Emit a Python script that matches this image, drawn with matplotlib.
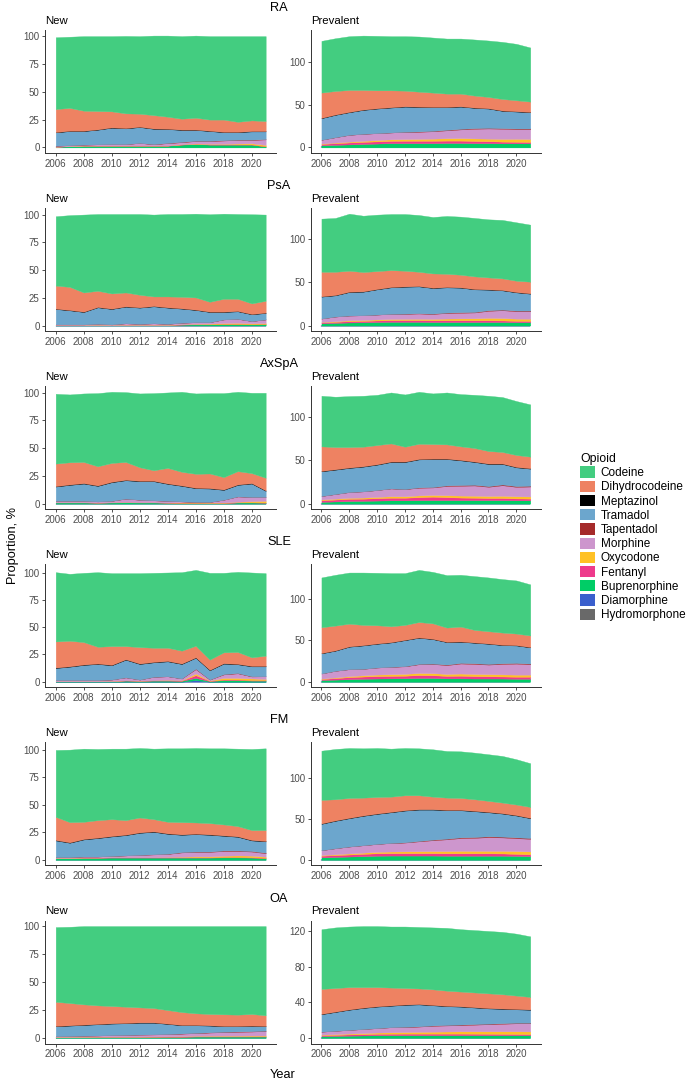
import numpy as np
import matplotlib.pyplot as plt
from matplotlib.patches import Patch

plt.rcParams['font.family'] = ['Liberation Sans', 'DejaVu Sans']

#%% data
years = np.arange(2006, 2022)
drugs = ['Codeine', 'Dihydrocodeine', 'Meptazinol', 'Tramadol', 'Tapentadol', 'Morphine',
         'Oxycodone', 'Fentanyl', 'Buprenorphine', 'Diamorphine', 'Hydromorphone']
colours = ['#43CD80', '#EE8262', '#000000', '#6CA6CD', '#A52A2A', '#CD96CD',
           '#FFC125', '#EE3A8C', '#00CD66', '#3A5FCD', '#696969']
conditions = ['RA', 'PsA', 'AxSpA', 'SLE', 'FM', 'OA']
x_ticks = [2006, 2008, 2010, 2012, 2014, 2016, 2018, 2020]
new_ticks = [0, 25, 50, 75, 100]
prev_ticks = [0, 50, 100]
oa_prev_ticks = [0, 40, 80, 120]

ra_new = {
    'Codeine': [64.5, 64, 67, 67.3, 67.6, 69.6, 69.7, 71.5, 72.9, 74.2, 73.8, 75, 75, 77, 75.7, 76.3],
    'Dihydrocodeine': [20.7, 20.5, 18, 16.5, 14.4, 13.2, 11.7, 12, 10.8, 9.8, 10.7, 10, 11, 9, 9.6, 9],
    'Meptazinol': [0.3, 0.3, 0.3, 0.3, 0.3, 0.3, 0.3, 0.3, 0.3, 0.3, 0.3, 0.3, 0.3, 0.3, 0.3, 0.3],
    'Tramadol': [12.0, 12.7, 12.2, 13.1, 14.7, 14.1, 14.3, 13.7, 12.5, 10.7, 9.7, 8.7, 7.2, 6.7, 7.4, 6.9],
    'Tapentadol': [0, 0, 0, 0, 0, 0, 0, 0.1, 0.2, 0.3, 0.3, 0.3, 0.3, 0.3, 0.3, 0.3],
    'Morphine': [0.8, 0.8, 0.8, 1.1, 1.3, 1.3, 2.3, 1.2, 2.1, 1.8, 2.2, 2.5, 3, 3.2, 3, 5],
    'Oxycodone': [0, 0, 0, 0, 0, 0, 0, 0, 0, 0.2, 0.3, 0.5, 0.5, 0.8, 1, 1.2],
    'Fentanyl': [0.2, 0.2, 0.2, 0.2, 0.2, 0.2, 0.2, 0.2, 0.2, 0.2, 0.2, 0.2, 0.2, 0.2, 0.2, 0.2],
    'Buprenorphine': [0.5, 1, 1.5, 1.5, 1.5, 1.5, 1.5, 1.5, 1.5, 2.5, 3, 2.5, 2.5, 2.5, 2.5, 0.8],
}
ra_prev = {
    'Codeine': [60.9, 62.1, 63.3, 64, 64.1, 63.7, 64.1, 64.9, 64.8, 64.8, 64.8, 66, 66.4, 67.2, 66.4, 63.7],
    'Dihydrocodeine': [29.7, 27.7, 25.8, 23.1, 21.1, 19.9, 18.4, 17.6, 16.8, 15.6, 14.9, 14.1, 13.3, 13.6, 12.9, 12.1],
    'Meptazinol': [0.4, 0.4, 0.4, 0.4, 0.4, 0.4, 0.4, 0.4, 0.4, 0.4, 0.4, 0.4, 0.4, 0.4, 0.4, 0.4],
    'Tramadol': [25.4, 26.3, 26.6, 28.1, 28.9, 29.3, 29.6, 28.8, 27.8, 26.6, 26.1, 23.8, 22.7, 20.3, 19.9, 19.1],
    'Tapentadol': [0, 0, 0, 0, 0, 0, 0.2, 0.4, 0.5, 0.6, 0.7, 0.7, 0.7, 0.7, 0.7, 0.7],
    'Morphine': [4.5, 6.3, 8.0, 8.3, 8.2, 8.1, 8.4, 8.4, 8.7, 9.3, 10.2, 11.4, 12.0, 12.0, 11.5, 11.7],
    'Oxycodone': [0.5, 0.7, 1, 1.2, 1.5, 1.8, 2, 2.2, 2.5, 2.8, 3, 3, 3, 3.2, 3.5, 3.5],
    'Fentanyl': [1.5, 2, 2.3, 2.5, 2.6, 2.7, 2.8, 2.8, 2.8, 2.8, 2.8, 2.6, 2.3, 2, 1.8, 1.6],
    'Buprenorphine': [2.5, 3, 3.5, 4, 4.5, 5, 5, 5, 5, 5.2, 5.2, 5, 5, 4.8, 4.8, 4.8],
}
psa_new = {
    'Codeine': [62.5, 64.7, 70.2, 69.2, 71.6, 70.7, 72.8, 73.8, 74.3, 74.6, 75.5, 78.9, 76.7, 76.4, 80.4, 77.7],
    'Dihydrocodeine': [20.8, 20.8, 17.3, 14.6, 13.7, 12.5, 11.3, 8.6, 9.8, 10.4, 11, 8.9, 11.6, 11, 9.5, 10.7],
    'Meptazinol': [0.3, 0.3, 0.3, 0.3, 0.3, 0.3, 0.3, 0.3, 0.3, 0.3, 0.3, 0.3, 0.3, 0.3, 0.3, 0.3],
    'Tramadol': [13.9, 12.7, 11.2, 14.9, 13.9, 15.0, 14.6, 15.3, 14.6, 12.7, 11.0, 9.2, 6.7, 6.8, 6.1, 5.8],
    'Morphine': [0.5, 0.5, 0.5, 0.8, 0.5, 1.3, 0.8, 1.3, 0.8, 1.3, 1.5, 1.3, 3.3, 3.6, 2.0, 3.3],
    'Oxycodone': [0, 0, 0, 0, 0, 0, 0, 0, 0, 0.2, 0.3, 0.5, 0.8, 1, 0.8, 0.8],
    'Fentanyl': [0.2, 0.2, 0.2, 0.2, 0.2, 0.2, 0.2, 0.2, 0.2, 0.2, 0.2, 0.2, 0.2, 0.2, 0.2, 0.2],
    'Buprenorphine': [0.3, 0.3, 0.3, 0.5, 0.3, 0.5, 0.5, 0.5, 0.5, 0.8, 1, 1, 1.2, 1.2, 1, 1.2],
}
psa_prev = {
    'Codeine': [61.1, 61.9, 65.6, 64.8, 64.9, 64.5, 65.2, 65.3, 64.9, 66.5, 66.8, 67.2, 66.8, 67.2, 67.2, 65.6],
    'Dihydrocodeine': [28.2, 26.7, 24.1, 22.2, 20.6, 19.4, 18, 16.4, 16.4, 15.2, 14.5, 14.5, 13.7, 13.4, 13, 13.4],
    'Meptazinol': [0.4, 0.4, 0.4, 0.4, 0.4, 0.4, 0.4, 0.4, 0.4, 0.4, 0.4, 0.4, 0.4, 0.4, 0.4, 0.4],
    'Tramadol': [25.2, 24.4, 27.0, 27.1, 29.0, 30.5, 30.9, 30.9, 29.4, 29.0, 28.2, 26.0, 23.6, 22.1, 20.9, 19.4],
    'Tapentadol': [0, 0, 0, 0, 0, 0, 0.2, 0.3, 0.4, 0.5, 0.6, 0.6, 0.7, 0.7, 0.7, 0.7],
    'Morphine': [4.0, 5.4, 5.5, 5.5, 5.6, 5.9, 5.9, 6.1, 5.7, 6.4, 6.5, 6.7, 8.1, 9.0, 8.6, 8.7],
    'Oxycodone': [0.5, 0.7, 1, 1, 1.2, 1.3, 1.4, 1.5, 1.6, 2, 2.2, 2.3, 2.8, 2.8, 2.5, 2.5],
    'Fentanyl': [1, 1.2, 1.5, 1.6, 1.8, 2, 2, 2, 2, 2, 2, 2, 2, 1.8, 1.6, 1.5],
    'Buprenorphine': [2.5, 3, 3.5, 3.7, 4, 4.2, 4.2, 4.2, 4, 4, 4, 4, 4, 4, 3.8, 3.8],
}
axspa_new = {
    'Codeine': [63, 61.2, 61.8, 66, 64.2, 63, 66.6, 69.6, 68.1, 72.2, 72.5, 72.5, 75.8, 71.6, 72.5, 76.7],
    'Dihydrocodeine': [20.3, 20, 19.1, 17.3, 17, 16.1, 12.2, 9.5, 14, 12.3, 12.6, 13.2, 11.1, 12, 9, 11.4],
    'Meptazinol': [0.4, 0.4, 0.4, 0.4, 0.4, 0.4, 0.4, 0.4, 0.4, 0.4, 0.4, 0.4, 0.4, 0.4, 0.4, 0.4],
    'Tramadol': [12.9, 14.4, 15.6, 14.0, 16.8, 16.6, 16.7, 17.2, 15.3, 14.0, 12.4, 12.1, 8.9, 10.4, 12.1, 5.5],
    'Morphine': [1.3, 1.3, 1.3, 1.0, 1.3, 3.1, 2.3, 1.8, 1.5, 0.8, 0.3, 0.5, 2.5, 4.8, 3.8, 3.5],
    'Oxycodone': [0, 0, 0, 0, 0, 0, 0, 0, 0, 0.5, 0.5, 0.3, 0.3, 0.5, 1, 1.5],
    'Fentanyl': [0.2, 0.2, 0.2, 0.2, 0.2, 0.2, 0.2, 0.2, 0.2, 0.2, 0.2, 0.2, 0.2, 0.2, 0.2, 0.2],
    'Buprenorphine': [1, 1, 1, 0.8, 1, 1.2, 1, 1, 0.8, 0.5, 0.5, 0.5, 0.5, 1, 1, 0.8],
}
axspa_prev = {
    'Codeine': [58.6, 58.3, 59, 59, 58.2, 59, 60.5, 60.2, 58.6, 60.1, 60.5, 61.6, 64, 63.6, 62.5, 60.5],
    'Dihydrocodeine': [28.4, 25.7, 23.7, 22.6, 22.2, 21, 17.2, 17.6, 16.9, 16.5, 15.7, 15.7, 14.5, 13.4, 13.8, 13.4],
    'Meptazinol': [0.5, 0.5, 0.5, 0.5, 0.5, 0.5, 0.5, 0.5, 0.5, 0.5, 0.5, 0.5, 0.5, 0.5, 0.5, 0.5],
    'Tramadol': [28.6, 28.2, 27.9, 28.6, 29.4, 30.6, 31.3, 32.4, 32.4, 30.5, 28.6, 26.4, 25.6, 23.7, 21.7, 19.8],
    'Tapentadol': [0, 0, 0, 0, 0, 0, 0.2, 0.4, 0.5, 0.7, 0.8, 0.8, 0.8, 0.9, 0.9, 0.9],
    'Morphine': [4.0, 5.4, 6.7, 7.2, 7.9, 9.1, 8.2, 8.9, 8.7, 10.7, 11.4, 11.9, 10.7, 12.3, 10.9, 11.5],
    'Oxycodone': [0.8, 1, 1.2, 1.3, 1.5, 1.7, 1.7, 2, 2, 2.2, 2.3, 2.3, 2.3, 2.5, 2.5, 2.5],
    'Fentanyl': [2, 2.2, 2.5, 2.5, 2.8, 3, 3, 3.5, 4, 3.5, 3, 2.8, 2.5, 2.5, 2.2, 2],
    'Buprenorphine': [2, 2.5, 3, 3.2, 3.5, 3.8, 3.8, 4, 4, 4, 4, 4, 4, 4, 3.8, 3.8],
}
sle_new = {
    'Codeine': [63.6, 61.5, 63.6, 68.5, 67, 67, 67.9, 68.8, 69.1, 72.1, 69.7, 79.7, 73, 73.6, 77.9, 75.8],
    'Dihydrocodeine': [24, 23.4, 20.6, 15.4, 17.2, 12.1, 15.1, 13, 12.1, 11.8, 10.6, 9.4, 10, 10.9, 7.9, 9.4],
    'Meptazinol': [0.4, 0.4, 0.4, 0.4, 0.4, 0.4, 0.4, 0.4, 0.4, 0.4, 0.4, 0.4, 0.4, 0.4, 0.4, 0.4],
    'Tramadol': [11.1, 12.3, 13.9, 14.8, 13.1, 16.2, 14.3, 13.3, 13.7, 13.3, 10.0, 8.5, 9.6, 8.0, 9.1, 9.1],
    'Tapentadol': [0, 0, 0, 0, 0, 0, 0, 0, 0, 0, 0.5, 0, 0.3, 0.3, 0.2, 0],
    'Morphine': [1.0, 1.0, 1.0, 1.0, 1.3, 2.7, 1.0, 3.2, 3.4, 1.7, 4.0, 0.9, 3.2, 4.2, 1.8, 2.5],
    'Oxycodone': [0, 0, 0, 0, 0, 0, 0, 0, 0.3, 0.3, 1.5, 0.3, 1.5, 1.5, 1.5, 1],
    'Fentanyl': [0.2, 0.2, 0.2, 0.2, 0.2, 0.3, 0.2, 0.3, 0.3, 0.2, 2.5, 0.3, 0.5, 0.5, 0.5, 0.5],
    'Buprenorphine': [0.3, 0.3, 0.3, 0.3, 0.5, 1, 0.8, 1, 1, 0.8, 2, 0.5, 1.5, 1.5, 1, 1],
    'Diamorphine': [0, 0, 0, 0, 0, 0, 0, 0, 0, 0, 1.5, 0, 0, 0, 0, 0],
}
sle_prev = {
    'Codeine': [59.9, 61.1, 61.5, 63, 63.1, 63.9, 62.3, 62.7, 61.9, 63.1, 62.3, 64.7, 64.7, 64.3, 63.9, 61.5],
    'Dihydrocodeine': [31, 29.8, 27.3, 24.3, 21.9, 19.1, 17.9, 18.6, 18.6, 17.1, 17.9, 15.1, 14.7, 14.7, 13.9, 13.9],
    'Meptazinol': [0.4, 0.4, 0.4, 0.4, 0.4, 0.4, 0.4, 0.4, 0.4, 0.4, 0.4, 0.4, 0.4, 0.4, 0.4, 0.4],
    'Tramadol': [24.2, 24.2, 27.0, 28.1, 28.5, 29.3, 31.3, 31.4, 29.4, 27.0, 25.4, 24.6, 24.2, 21.8, 21.0, 19.5],
    'Tapentadol': [0, 0, 0, 0, 0, 0, 0.2, 0.4, 0.5, 0.6, 0.7, 0.8, 0.8, 0.8, 0.8, 0.8],
    'Morphine': [6.2, 8.0, 8.4, 7.8, 8.5, 8.9, 9.1, 10.5, 11.0, 10.7, 12.1, 12.1, 11.5, 12.6, 13.3, 12.5],
    'Oxycodone': [0.5, 0.8, 1.2, 1.5, 1.8, 2, 2.2, 2.5, 2.5, 2.3, 2.6, 2.5, 2.5, 2.5, 2.5, 2.5],
    'Fentanyl': [1.2, 1.8, 2.5, 2.7, 3, 3, 3, 3.5, 3.3, 3, 3.2, 3, 2.8, 2.5, 2.5, 2.5],
    'Buprenorphine': [2, 2.5, 3, 3.5, 3.8, 4, 4.2, 4.5, 4.5, 4, 4, 3.8, 3.8, 3.8, 3.5, 3.5],
}
fm_new = {
    'Codeine': [60.7, 65.8, 66.4, 64.6, 64, 64.9, 63.1, 64, 66.7, 67, 67.6, 67.9, 69.1, 70.3, 73.6, 74.2],
    'Dihydrocodeine': [21, 18.3, 15.6, 15.9, 15.3, 13.2, 13.5, 11.1, 10.5, 11.1, 10.2, 10.2, 9.9, 9.3, 9, 9.9],
    'Meptazinol': [0.4, 0.4, 0.4, 0.4, 0.4, 0.4, 0.4, 0.4, 0.4, 0.4, 0.4, 0.4, 0.4, 0.4, 0.4, 0.4],
    'Tramadol': [15.1, 13.0, 15.5, 16.7, 17.7, 18.4, 20.0, 20.4, 18.1, 15.7, 15.8, 15.2, 13.3, 12.4, 9.6, 10.2],
    'Tapentadol': [0, 0, 0, 0, 0, 0, 0, 0.1, 0.2, 0.3, 0.3, 0.3, 0.5, 0.5, 0.5, 0.5],
    'Morphine': [0.7, 0.7, 0.9, 0.9, 1.2, 1.7, 2.2, 2.6, 2.8, 3.9, 4.1, 4.1, 4.3, 4.0, 3.7, 3.2],
    'Oxycodone': [0, 0, 0, 0, 0, 0, 0, 0, 0.2, 0.5, 0.8, 0.8, 1.2, 1.5, 1.5, 1],
    'Fentanyl': [0.3, 0.3, 0.3, 0.3, 0.3, 0.3, 0.3, 0.3, 0.3, 0.3, 0.3, 0.3, 0.3, 0.3, 0.3, 0.3],
    'Buprenorphine': [1.5, 1.5, 1.8, 1.8, 2, 2, 2, 2, 2, 2, 2, 2, 2.2, 2.2, 2, 1.5],
}
fm_prev = {
    'Codeine': [60.5, 61.8, 61.4, 60.6, 60.2, 59, 58.1, 57.7, 58.2, 57.3, 57.3, 57.3, 57.3, 57.3, 55.7, 53.7],
    'Dihydrocodeine': [28.9, 26, 24.4, 21.9, 20.3, 18.7, 18.3, 17.1, 15.4, 15, 14.6, 14.2, 13.5, 13, 13, 13.4],
    'Meptazinol': [0.5, 0.5, 0.5, 0.5, 0.5, 0.5, 0.5, 0.5, 0.5, 0.5, 0.5, 0.5, 0.5, 0.5, 0.5, 0.5],
    'Tramadol': [32.4, 33.7, 34.8, 36.1, 36.9, 37.7, 39.0, 38.5, 36.9, 34.9, 33.3, 31.7, 29.5, 28.3, 26.8, 24.3],
    'Tapentadol': [0, 0, 0, 0, 0, 0, 0.3, 0.5, 0.7, 0.8, 0.9, 1, 1, 1, 1, 1],
    'Morphine': [6.0, 7.4, 8.5, 9.1, 9.7, 10.5, 10.8, 12.1, 13.3, 14.4, 15.7, 16.0, 16.9, 16.5, 15.8, 15.5],
    'Oxycodone': [0.8, 1, 1.3, 1.5, 1.8, 2, 2.2, 2.4, 2.6, 2.8, 3, 3, 3, 3.2, 3.5, 3.5],
    'Fentanyl': [2, 2.3, 2.5, 2.8, 3, 3, 3, 3, 3, 3, 3, 3, 3, 2.8, 2.5, 2.3],
    'Buprenorphine': [3, 3.5, 4, 4.5, 5, 5.2, 5.2, 5.2, 5.2, 5, 5, 5, 5, 5, 4.8, 4.5],
}
oa_new = {
    'Codeine': [66.8, 68.2, 70, 70.9, 71.5, 72.1, 72.7, 73.3, 75.1, 76.9, 78, 78.6, 78.9, 79.2, 78.6, 79.8],
    'Dihydrocodeine': [21.6, 19.9, 18.1, 16.6, 15.4, 14.5, 13.4, 12.8, 12.1, 11.5, 10.4, 10.1, 10.4, 10.1, 10.4, 9.5],
    'Meptazinol': [0.3, 0.3, 0.3, 0.3, 0.3, 0.3, 0.3, 0.3, 0.3, 0.3, 0.3, 0.3, 0.3, 0.3, 0.3, 0.3],
    'Tramadol': [8.9, 9.3, 9.6, 10.0, 10.3, 10.4, 10.6, 10.4, 9.0, 7.3, 6.8, 6.0, 4.9, 4.6, 4.7, 3.9],
    'Tapentadol': [0, 0, 0, 0, 0, 0, 0, 0.1, 0.1, 0.2, 0.2, 0.2, 0.3, 0.3, 0.3, 0.3],
    'Morphine': [0.5, 0.7, 0.9, 1.0, 1.3, 1.5, 1.8, 1.8, 2.0, 2.3, 2.5, 2.9, 3.2, 3.5, 3.6, 4.1],
    'Oxycodone': [0, 0, 0, 0, 0, 0, 0, 0.1, 0.2, 0.3, 0.4, 0.5, 0.6, 0.6, 0.7, 0.7],
    'Fentanyl': [0.2, 0.2, 0.2, 0.2, 0.2, 0.2, 0.2, 0.2, 0.2, 0.2, 0.2, 0.2, 0.2, 0.2, 0.2, 0.2],
    'Buprenorphine': [0.8, 0.8, 0.9, 1, 1, 1, 1, 1, 1, 1, 1.2, 1.2, 1.2, 1.2, 1.2, 1.2],
}
oa_prev = {
    'Codeine': [67, 68, 68, 68.5, 68.5, 68.5, 69, 69, 69.5, 70.5, 70, 70, 70, 70, 69.5, 68],
    'Dihydrocodeine': [28, 26.5, 25, 23, 21.5, 20, 18.5, 17.5, 17.5, 17, 16.5, 16.5, 16.5, 16, 15, 14],
    'Meptazinol': [0.4, 0.4, 0.4, 0.4, 0.4, 0.4, 0.4, 0.4, 0.4, 0.4, 0.4, 0.4, 0.4, 0.4, 0.4, 0.4],
    'Tramadol': [19.6, 21.1, 22.6, 23.6, 24.1, 24.1, 24.6, 24.6, 22.6, 21.1, 20.1, 18.6, 17.1, 16.1, 15.1, 14.6],
    'Tapentadol': [0, 0, 0, 0, 0, 0, 0.2, 0.3, 0.4, 0.5, 0.6, 0.6, 0.6, 0.6, 0.6, 0.6],
    'Morphine': [3.4, 3.8, 4.1, 4.6, 5.0, 5.7, 5.7, 5.9, 6.6, 6.8, 7.0, 7.5, 8.0, 8.5, 9.0, 9.1],
    'Oxycodone': [0.6, 0.8, 1, 1.2, 1.4, 1.6, 1.8, 2, 2.2, 2.4, 2.6, 2.7, 2.8, 2.9, 3, 3],
    'Fentanyl': [1, 1.2, 1.4, 1.5, 1.6, 1.7, 1.8, 1.8, 1.8, 1.8, 1.8, 1.7, 1.6, 1.5, 1.4, 1.3],
    'Buprenorphine': [2, 2.2, 2.5, 2.7, 3, 3, 3, 3, 3, 3, 3, 3, 3, 3, 3, 3],
}

panels = [(ra_new, ra_prev, prev_ticks), (psa_new, psa_prev, prev_ticks),
          (axspa_new, axspa_prev, prev_ticks), (sle_new, sle_prev, prev_ticks),
          (fm_new, fm_prev, prev_ticks), (oa_new, oa_prev, oa_prev_ticks)]

#%% figure
W, H = 688, 1083
fig = plt.figure(figsize=(W / 100, H / 100), dpi=100)
grey = '#4D4D4D'


def draw_panel(ax, data, ticks, title):
    stack_order = drugs[::-1]  # first factor level ends up on top
    layers = [np.array(data.get(d, np.zeros(len(years))), dtype=float) for d in stack_order]
    cols = colours[::-1]
    polys = ax.stackplot(years, *layers, colors=cols, linewidth=0.25)
    for p, c in zip(polys, cols):
        p.set_edgecolor(c)
    top = np.sum(layers, axis=0).max()
    ax.set_ylim(-0.05 * top, 1.05 * top)
    ax.set_xlim(years[0] - 0.75, years[-1] + 0.75)
    ax.set_xticks(x_ticks)
    ax.set_yticks(ticks)
    ax.tick_params(labelsize=7, labelcolor=grey, color='#333333', length=2.5, width=0.6, pad=1.5)
    for s in ['top', 'right']:
        ax.spines[s].set_visible(False)
    for s in ['left', 'bottom']:
        ax.spines[s].set_color('#333333')
        ax.spines[s].set_linewidth(0.7)
    ax.text(0, 1 + 9 / 123, title, transform=ax.transAxes, ha='left', va='center', fontsize=8.2)


for i, (cond, (new, prev, pticks)) in enumerate(zip(conditions, panels)):
    top_px = 30 + i * 178.1
    bottom = 1 - (top_px + 123) / H
    ax_new = fig.add_axes([45.2 / W, bottom, 231 / W, 123 / H])
    ax_prev = fig.add_axes([311 / W, bottom, 229.7 / W, 123 / H])
    draw_panel(ax_new, new, new_ticks, 'New')
    draw_panel(ax_prev, prev, pticks, 'Prevalent')
    fig.text(279 / W, 1 - (top_px - 22) / H, cond, ha='center', va='center', fontsize=9.2)

fig.text(13 / W, 1 - 545 / H, 'Proportion, %', rotation=90, ha='center', va='center', fontsize=9.2)
fig.text(283 / W, 1 - 1075 / H, 'Year', ha='center', va='center', fontsize=9.2)

handles = [Patch(facecolor=c, edgecolor='none') for c in colours]
leg = fig.legend(handles, drugs, title='Opioid', loc='upper left',
                 bbox_to_anchor=(574 / W, 1 - 447 / H), frameon=False,
                 fontsize=8.5, title_fontsize=8.8, handlelength=1.3, handleheight=1.1,
                 labelspacing=0.13, handletextpad=0.45, borderpad=0)
leg._legend_box.align = 'left'

fig.savefig('out.png', dpi=100)
